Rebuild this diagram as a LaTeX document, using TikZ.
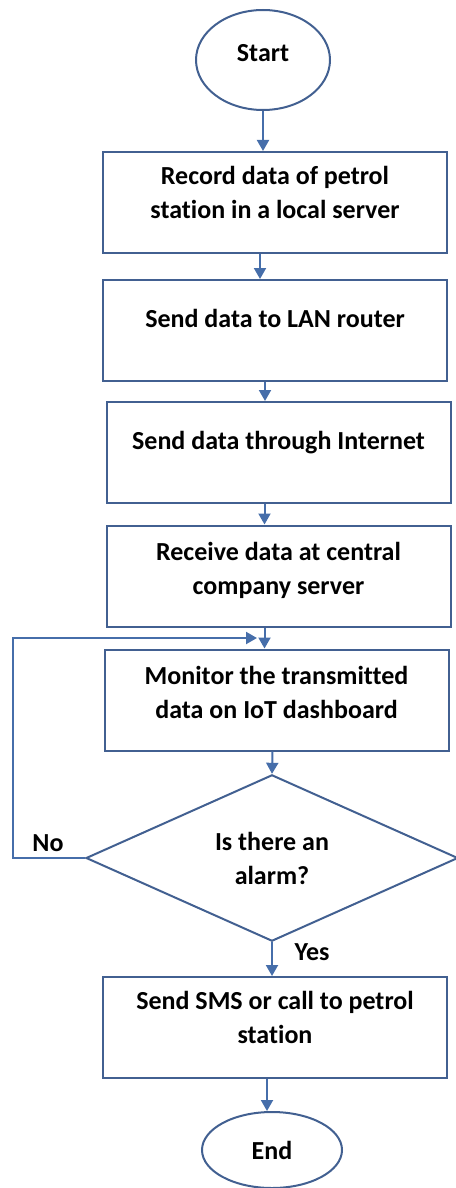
\documentclass[tikz,border=0pt]{standalone}
\usepackage{fontspec}
\setmainfont[Ligatures=NoCommon]{Carlito}
\usetikzlibrary{shapes.geometric, arrows.meta}
\definecolor{lineblue}{RGB}{66,96,145}
\definecolor{arrowblue}{RGB}{70,110,170}
\tikzstyle{terminal} = [ellipse, draw=lineblue, line width=1pt, font=\fontsize{13}{17}\selectfont\bfseries, inner sep=0pt]
\tikzstyle{process} = [rectangle, minimum width=172pt, minimum height=50.5pt, text centered, align=center, text depth=10pt, draw=lineblue, line width=1pt, font=\fontsize{13}{17}\selectfont\bfseries]
\tikzstyle{decision} = [diamond, minimum width=186pt, minimum height=81pt, inner sep=0pt, align=center, draw=lineblue, line width=1pt, font=\fontsize{13}{17}\selectfont\bfseries]
\tikzstyle{tag} = [font=\fontsize{13}{17}\selectfont\bfseries]
\tikzstyle{arrow} = [draw=arrowblue, line width=1pt, -{Triangle[width=6pt,length=5.5pt]}]

\begin{document}
\begin{tikzpicture}[x=0.5pt, y=0.5pt, yscale=-1]
\useasboundingbox (0,0) rectangle (455,1188);

\node at (263, 60) (start) [terminal, minimum width=67pt, minimum height=50pt, text depth=7pt] {Start};
\node at (275, 202.5) (record) [process] {Record data of petrol\\station in a local server};
\node at (275, 330.5) (lan) [process, text depth=12pt] {Send data to LAN router};
\node at (278.5, 452.5) (internet) [process, text depth=12pt] {Send data through Internet};
\node at (278.5, 576) (receive) [process, text depth=8pt] {Receive data at central\\company server};
\node at (276.5, 700) (monitor) [process, text depth=8pt] {Monitor the transmitted\\data on IoT dashboard};
\node at (272, 858) (alarm) [decision] {Is there an\\alarm?};
\node at (275, 1027.5) (sms) [process] {Send SMS or call to petrol\\station};
\node at (272, 1150) (end) [terminal, minimum width=70pt, minimum height=38pt] {End};

\node at (48, 843) (no) [tag] {No};
\node at (312, 952) (yes) [tag] {Yes};

\coordinate (back) at (13, 638);
\coordinate (loopin) at (257, 638);

\draw [arrow] (start.south) -- (start.south |- record.north);
\draw [arrow] ([xshift=-7.5pt]record.south) -- ([xshift=-7.5pt]record.south |- lan.north);
\draw [arrow] ([xshift=-5pt]lan.south) -- ([xshift=-5pt]lan.south |- internet.north);
\draw [arrow] ([xshift=-7pt]internet.south) -- ([xshift=-7pt]internet.south |- receive.north);
\draw [arrow] ([xshift=-7pt]receive.south) -- ([xshift=-7pt]receive.south |- monitor.north);
\draw [arrow] ([xshift=-2pt]monitor.south) -- (alarm.north);
\draw [arrow] (alarm.south) -- (alarm.south |- sms.north);
\draw [arrow] ([xshift=-4pt]sms.south) -- ([xshift=-4pt]sms.south |- end.north);
\draw [arrow] (alarm.west) -| (back) -- (loopin);

\end{tikzpicture}
\end{document}
